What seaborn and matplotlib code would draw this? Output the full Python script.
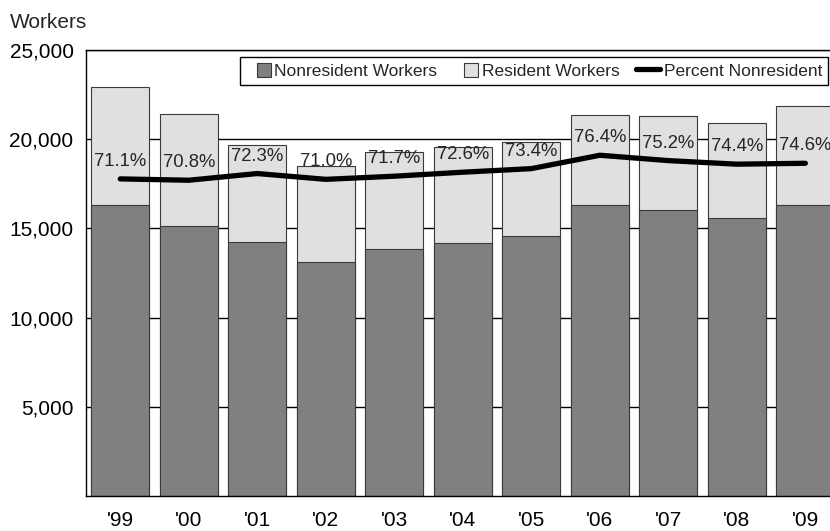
import numpy as np
import matplotlib
matplotlib.use("Agg")
import matplotlib.pyplot as plt
import matplotlib.patches as mpatches
from matplotlib.lines import Line2D
from matplotlib.legend_handler import HandlerPatch
from matplotlib.ticker import FuncFormatter
import seaborn as sns

years = ["'99", "'00", "'01", "'02", "'03", "'04", "'05", "'06", "'07", "'08", "'09"]
nonresident = [16300, 15150, 14220, 13140, 13820, 14200, 14550, 16330, 16040, 15570, 16310]
resident = [6650, 6260, 5450, 5380, 5440, 5360, 5270, 5040, 5280, 5360, 5550]
pct_nonresident = [71.1, 70.8, 72.3, 71.0, 71.7, 72.6, 73.4, 76.4, 75.2, 74.4, 74.6]

sns.set_style("white")
plt.rcParams["font.family"] = ["Liberation Sans", "DejaVu Sans"]

dark = "#808080"
light = "#e0e0e0"
edge = "#3a3a3a"

total = [n + r for n, r in zip(nonresident, resident)]

fig = plt.figure(figsize=(8.3, 5.31), dpi=100)
ax = fig.add_axes([86 / 830, 35 / 531, 744 / 830, 446 / 531])

sns.barplot(
    x=years,
    y=total,
    color=light,
    saturation=1,
    width=0.85,
    edgecolor=edge,
    linewidth=0.8,
    ax=ax
)

sns.barplot(
    x=years,
    y=nonresident,
    color=dark,
    saturation=1,
    width=0.85,
    edgecolor=edge,
    linewidth=0.8,
    ax=ax
)

ax.set_ylim(0, 25000)
ax.set_yticks([5000, 10000, 15000, 20000, 25000])
ax.yaxis.set_major_formatter(FuncFormatter(lambda v, p: f"{int(v):,}"))
ax.yaxis.grid(True, color="black", linewidth=1)
ax.set_axisbelow(True)
ax.tick_params(axis="both", length=0, labelsize=15, colors="black")
ax.tick_params(axis="x", pad=11)
ax.tick_params(axis="y", pad=9)
ax.set_xlabel("")
ax.set_ylabel("")
for side in ["left", "bottom", "top"]:
    ax.spines[side].set_color("black")
    ax.spines[side].set_linewidth(1)
ax.spines["right"].set_visible(False)

ax2 = ax.twinx()
sns.lineplot(
    x=np.arange(len(years)),
    y=pct_nonresident,
    color="black",
    linewidth=3.8,
    legend=False,
    ax=ax2
)
ax2.set_ylim(0, 100)
ax2.set_axis_off()

for i, p in enumerate(pct_nonresident):
    ax2.annotate(
        f"{p:.1f}%",
        (i, p),
        xytext=(0, 12.5),
        textcoords="offset points",
        ha="center",
        va="center",
        fontsize=13.3
    )

ax.set_xlim(-0.5, 10.36)


# small square swatch sitting at the right end of the handle box
def square_swatch(legend, orig_handle, xdescent, ydescent, width, height, fontsize):
    s = 0.8 * fontsize
    return mpatches.Rectangle(
        (-xdescent + width - s, -ydescent + (height - s) / 2), s, s
    )


handles = [
    mpatches.Patch(facecolor=dark, edgecolor=edge, linewidth=0.8, label="Nonresident Workers"),
    mpatches.Patch(facecolor=light, edgecolor=edge, linewidth=0.8, label="Resident Workers"),
    Line2D([0], [0], color="black", linewidth=3.8, label="Percent Nonresident"),
]

leg = ax2.legend(
    handles=handles,
    handler_map={mpatches.Patch: HandlerPatch(patch_func=square_swatch)},
    ncol=3,
    loc="upper right",
    bbox_to_anchor=(828 / 830, 1 - 57 / 531),
    bbox_transform=fig.transFigure,
    fontsize=12.5,
    frameon=True,
    fancybox=False,
    framealpha=1,
    edgecolor="black",
    borderpad=0.35,
    handlelength=1.4,
    handleheight=0.8,
    handletextpad=0.2,
    columnspacing=0.95,
    borderaxespad=0
)
leg.get_frame().set_linewidth(1)

fig.text(10 / 830, 1 - 22 / 531, "Workers", fontsize=15, va="center", ha="left")

plt.savefig("out.png", dpi=100)
